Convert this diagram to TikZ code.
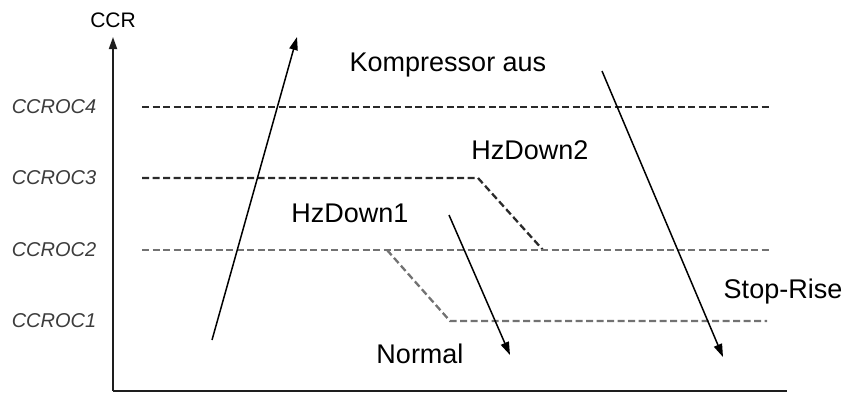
\documentclass[tikz,border=0pt]{standalone}
\usepackage{fontspec}
\setmainfont{Liberation Sans}
\usetikzlibrary{arrows.meta}
\definecolor{axisdark}{HTML}{1E1E1E}
\definecolor{leveldark}{HTML}{2A2A2A}
\definecolor{levelgray}{HTML}{727272}
\definecolor{labelgray}{HTML}{3C3C3C}
\tikzset{
  axis/.style={-{Triangle[length=12pt,width=8pt]},line width=1.8pt,draw=axisdark},
  baseaxis/.style={line width=1.8pt,draw=axisdark},
  leveldark/.style={line width=2.3pt,draw=leveldark,dash pattern=on 7pt off 3.5pt},
  levelgray/.style={line width=2.3pt,draw=levelgray,dash pattern=on 7pt off 3.5pt},
  statetext/.style={font=\fontsize{27}{30}\selectfont,inner sep=0pt},
  levellabel/.style={font=\fontsize{20}{24}\selectfont\itshape,text=labelgray,inner sep=0pt},
  transition/.style={-{Triangle[length=13pt,width=8.5pt]},line width=1.5pt,draw=black}
}

\begin{document}
\begin{tikzpicture}[x=1pt,y=1pt]
  \useasboundingbox (0,0) rectangle (846,392);

  \coordinate (origin) at (113,1);
  \coordinate (ytop) at (113,355);
  \coordinate (xend) at (787,1);
  \draw[baseaxis] (origin) -- (xend);
  \draw[axis] (origin) -- (ytop);
  \node[statetext,font=\fontsize{21}{24}\selectfont] (ccr) at (113,372) {CCR};

  \node[levellabel] (roc4) at (54,285) {CCROC4};
  \node[levellabel] (roc3) at (54,214) {CCROC3};
  \node[levellabel] (roc2) at (54,142) {CCROC2};
  \node[levellabel] (roc1) at (54,71) {CCROC1};

  \coordinate (l4a) at (142,285);
  \coordinate (l4b) at (770,285);
  \coordinate (l3a) at (142,214);
  \coordinate (l3b) at (478,214);
  \coordinate (l3c) at (543,142);
  \coordinate (l2a) at (142,142);
  \coordinate (l2b) at (770,142);
  \coordinate (l1a) at (387,142);
  \coordinate (l1b) at (450,71);
  \coordinate (l1c) at (767,71);
  \draw[leveldark] (l4a) -- (l4b);
  \draw[leveldark] (l3a) -- (l3b) -- (l3c);
  \draw[levelgray] (l2a) -- (l2b);
  \draw[levelgray] (l1a) -- (l1b) -- (l1c);

  \node[statetext] (aus) at (448,327) {Kompressor aus};
  \node[statetext] (hz2) at (530,242) {HzDown2};
  \node[statetext] (hz1) at (350,179) {HzDown1};
  \node[statetext] (normal) at (420,38) {Normal};
  \node[statetext] (stop) at (783,100) {Stop-Rise};

  \coordinate (risestart) at (212,52);
  \coordinate (riseend) at (297,355);
  \coordinate (hz1start) at (449,177);
  \coordinate (hz1end) at (510,37);
  \coordinate (ausstart) at (602,321);
  \coordinate (ausend) at (723,35);
  \draw[transition] (risestart) -- (riseend);
  \draw[transition] (hz1start) -- (hz1end);
  \draw[transition] (ausstart) -- (ausend);
\end{tikzpicture}
\end{document}
